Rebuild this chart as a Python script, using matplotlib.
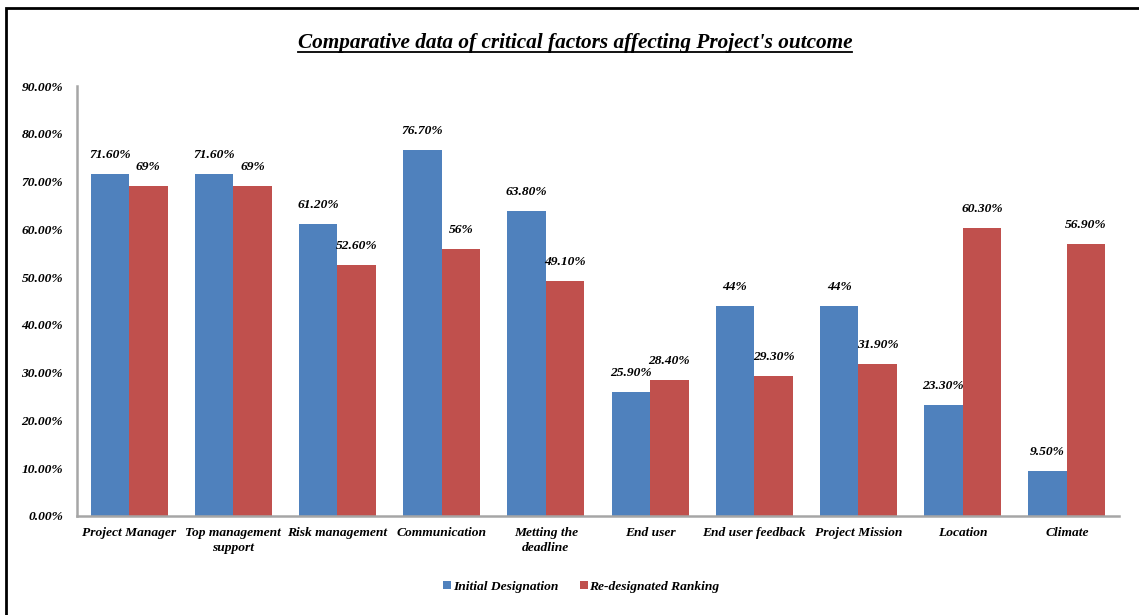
import matplotlib.pyplot as plt
import numpy as np
from matplotlib.lines import Line2D
from matplotlib.patches import Rectangle

categories = ['Project Manager', 'Top management\nsupport', 'Risk management', 'Communication',
              'Metting the\ndeadline', 'End user', 'End user feedback', 'Project Mission',
              'Location', 'Climate']
initial = [71.6, 71.6, 61.2, 76.7, 63.8, 25.9, 44.0, 44.0, 23.3, 9.5]
redesignated = [69.0, 69.0, 52.6, 56.0, 49.1, 28.4, 29.3, 31.9, 60.3, 56.9]
initial_labels = ['71.60%', '71.60%', '61.20%', '76.70%', '63.80%', '25.90%', '44%', '44%', '23.30%', '9.50%']
redesignated_labels = ['69%', '69%', '52.60%', '56%', '49.10%', '28.40%', '29.30%', '31.90%', '60.30%', '56.90%']

plt.rcParams['font.family'] = ['Liberation Serif', 'DejaVu Serif']
bold_it = dict(fontweight='bold', fontstyle='italic')

fig = plt.figure(figsize=(11.39, 6.15), dpi=100)
ax = fig.add_axes([0.0676, 0.161, 0.9148, 0.699])

x = np.arange(len(categories))
w = 0.37
blue = '#4F81BD'
red = '#C0504D'
ax.bar(x - w / 2, initial, w, color=blue, label='Initial Designation')
ax.bar(x + w / 2, redesignated, w, color=red, label='Re-designated Ranking')

for xi, v, s in zip(x, initial, initial_labels):
    ax.annotate(s, (xi - w / 2, v), xytext=(0, 19), textcoords='offset pixels',
                ha='center', va='center', fontsize=9.7, **bold_it)
for xi, v, s in zip(x, redesignated, redesignated_labels):
    ax.annotate(s, (xi + w / 2, v), xytext=(0, 19), textcoords='offset pixels',
                ha='center', va='center', fontsize=9.7, **bold_it)

ax.set_xlim(-0.5, len(categories) - 0.5)
ax.set_ylim(0, 90)
ax.set_yticks(np.arange(0, 91, 10))
ax.set_yticklabels(['%.2f%%' % t for t in np.arange(0, 91, 10)], fontsize=9.7, **bold_it)
ax.set_xticks(x)
ax.set_xticklabels(categories, fontsize=9.7, linespacing=1.35, **bold_it)
ax.tick_params(length=0, pad=8)
ax.tick_params(axis='y', pad=10)
for side in ['top', 'right']:
    ax.spines[side].set_visible(False)
for side in ['left', 'bottom']:
    ax.spines[side].set_color('#A6A6A6')
    ax.spines[side].set_linewidth(1.8)

leg = ax.legend(loc='center', bbox_to_anchor=(0.484, -0.165), ncol=2, frameon=False,
                prop=dict(family='Liberation Serif', weight='bold', style='italic', size=9.7),
                handlelength=0.6, handleheight=0.6, handletextpad=0.1, columnspacing=1.6)

title = fig.text(0.505, 0.93, "Comparative data of critical factors affecting Project's outcome",
                 ha='center', va='center', fontsize=15.3, **bold_it)

# underline the title
fig.canvas.draw()
bb = title.get_window_extent().transformed(fig.transFigure.inverted())
fig.add_artist(Line2D([bb.x0, bb.x1], [bb.y0 + 0.001, bb.y0 + 0.001], color='black', lw=1.3))

# outer frame (only top and left edges visible)
fig.add_artist(Rectangle((6 / 1139, -0.1), 1.2, 1.1 - 8 / 615, fill=False,
                         edgecolor='black', lw=2, transform=fig.transFigure))

fig.savefig('out.png', dpi=100)
